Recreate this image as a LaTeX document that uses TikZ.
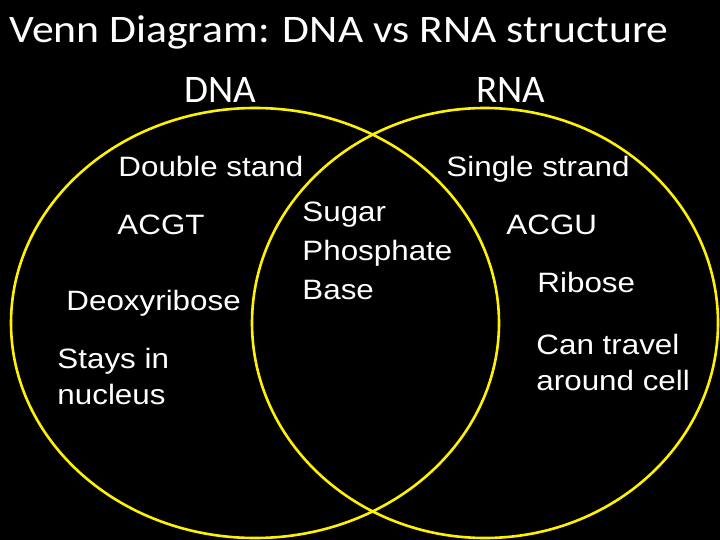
\documentclass[tikz,border=0pt]{standalone}
\usepackage{fontspec}
\setmainfont{Liberation Sans}
\newfontfamily\calibri{Carlito}

\begin{document}
\begin{tikzpicture}[x=1pt, y=-1pt, line width=2.6pt,
	lbl/.style={text=white, inner sep=0pt, anchor=base west, xscale=1.12,
		font=\fontsize{28}{34}\selectfont},
	head/.style={text=white, inner sep=0pt, anchor=base west, xscale=1.12,
		font=\calibri\fontsize{39}{45}\selectfont}]
	
	\useasboundingbox (0,0) rectangle (720,540);
	\fill[black] (0,0) rectangle (720,540);
	
	% the two sets
	\draw[yellow] (255,323) ellipse [x radius=244, y radius=215];
	\draw[yellow] (485,323) ellipse [x radius=233, y radius=215];
	
	\node[head] (title) at (8,43) {Venn Diagram: DNA vs RNA structure};
	\node[head, xscale=1/1.12] (dna) at (183,103) {DNA};
	\node[head, xscale=1/1.12] (rna) at (475,103) {RNA};
	
	% DNA only
	\node[lbl] (double) at (117,177) {Double stand};
	\node[lbl] (acgt) at (116,235) {ACGT};
	\node[lbl] (deoxy) at (65,310) {Deoxyribose};
	\node[lbl] (stays) at (56,368) {Stays in};
	\node[lbl] (nucleus) at (56,404) {nucleus};
	
	% both
	\node[lbl] (sugar) at (301,222) {Sugar};
	\node[lbl] (phosphate) at (301,260) {Phosphate};
	\node[lbl] (base) at (301,299) {Base};
	
	% RNA only
	\node[lbl] (single) at (445,177) {Single strand};
	\node[lbl] (acgu) at (505,235) {ACGU};
	\node[lbl] (ribose) at (536,292) {Ribose};
	\node[lbl] (travel) at (535,354) {Can travel};
	\node[lbl] (cell) at (535,390) {around cell};
	
\end{tikzpicture}
\end{document}
